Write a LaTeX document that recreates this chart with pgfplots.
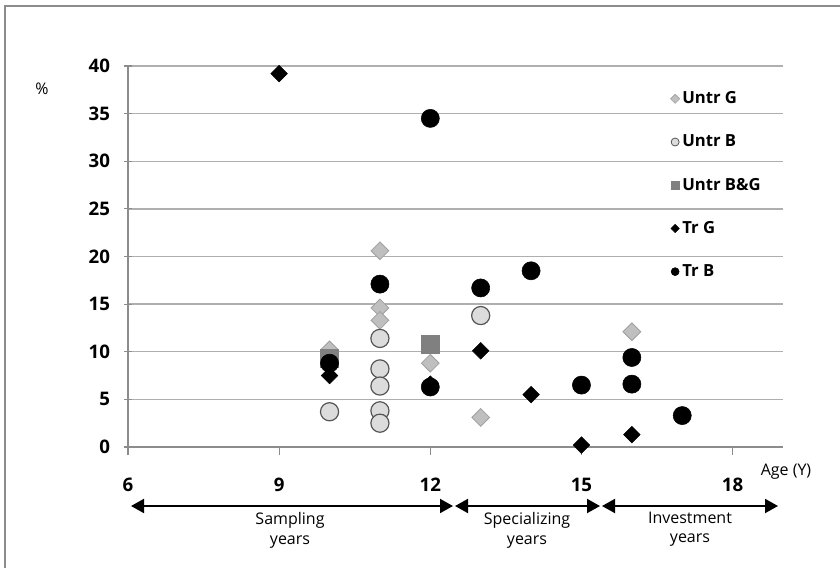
\documentclass[border=0pt]{standalone}
\usepackage{fontspec}
\setmainfont{Open Sans}
\usepackage{pgfplots}
\pgfplotsset{compat=1.18}
\usetikzlibrary{arrows.meta}
\definecolor{untrg}{HTML}{BFBFBF}
\definecolor{untrgedge}{HTML}{A0A0A0}
\definecolor{untrb}{HTML}{DCDCDC}
\definecolor{untrbedge}{HTML}{555555}
\definecolor{untrbg}{HTML}{808080}
\definecolor{axgray}{HTML}{8C8C8C}
\definecolor{gridgray}{HTML}{AFAFAF}
\begin{document}
\begin{tikzpicture}
\begin{scope}[x=0.75pt,y=-0.75pt]
\useasboundingbox (0,0) rectangle (840,568);
\draw[axgray, line width=1.5pt] (5,568) -- (5,6) -- (840,6);
\end{scope}
\begin{axis}[
  at={(96pt,-335.25pt)}, anchor=south west,
  scale only axis, width=491.25pt, height=285.75pt,
  xmin=6, xmax=19, ymin=0, ymax=40,
  axis lines=left, axis line style={-, draw=axgray, line width=0.9pt},
  xtick={6,9,12,15,18}, ytick={0,5,...,40},
  xtick align=outside, ytick align=center,
  major tick length=6pt,
  tick style={draw=axgray, line width=0.8pt},
  ymajorgrids, grid style={draw=gridgray, line width=1pt},
  /pgf/number format/assume math mode=true,
  ticklabel style={font=\fontsize{14}{16}\selectfont\bfseries},
  xticklabel style={yshift=-14pt},
  yticklabel style={xshift=-7pt},
  clip=false,
  legend style={draw=none, fill=none, at={(0.828,0.94)}, anchor=north west,
    font=\fontsize{12.5}{14}\selectfont\bfseries, row sep=17.9pt, inner sep=0pt},
  legend cell align=left,
  legend image code/.code={\draw[mark repeat=2,mark phase=2,#1] plot coordinates {(0cm,0cm) (0.2cm,0cm) (0.55cm,0cm)};},
]
% legend images
\addlegendimage{only marks, mark=square*, mark size=2.4pt, mark options={rotate=45, fill=untrg, draw=untrgedge, line width=0.5pt}}
\addlegendentry{Untr G}
\addlegendimage{only marks, mark=*, mark size=3pt, mark options={fill=untrb, draw=untrbedge, line width=0.6pt}}
\addlegendentry{Untr B}
\addlegendimage{only marks, mark=square*, mark size=3pt, mark options={fill=untrbg, draw=untrbg}}
\addlegendentry{Untr B\&G}
\addlegendimage{only marks, mark=square*, mark size=2.2pt, mark options={rotate=45, fill=black, draw=black}}
\addlegendentry{Tr G}
\addlegendimage{only marks, mark=*, mark size=3pt, mark options={fill=black, draw=black}}
\addlegendentry{Tr B}
% Untr G
\addplot[forget plot, only marks, mark=square*, mark size=4.7pt, mark options={rotate=45, fill=untrg, draw=untrgedge, line width=0.6pt}]
coordinates {(10,10.2) (11,20.6) (11,14.6) (11,13.3) (12,8.8) (13,3.1) (16,12.1)};
% Untr B
\addplot[forget plot, only marks, mark=*, mark size=6.8pt, mark options={fill=untrb, draw=untrbedge, line width=0.9pt}]
coordinates {(10,3.7) (11,11.4) (11,8.2) (11,6.4) (11,3.8) (11,2.5) (13,13.8)};
% Untr B&G
\addplot[forget plot, only marks, mark=square*, mark size=6.6pt, mark options={fill=untrbg, draw=untrbg}]
coordinates {(10,9.3) (12,10.8)};
% Tr G
\addplot[forget plot, only marks, mark=square*, mark size=4.4pt, mark options={rotate=45, fill=black, draw=black}]
coordinates {(9,39.2) (10,7.5) (12,6.6) (13,10.1) (14,5.5) (15,0.2) (16,1.3)};
% Tr B
\addplot[forget plot, only marks, mark=*, mark size=6.8pt, mark options={fill=black, draw=black}]
coordinates {(10,8.8) (11,17.1) (12,34.5) (12,6.3) (13,16.7) (14,18.5) (15,6.5) (16,9.4) (16,6.6) (17,3.3)};
\end{axis}
\begin{scope}[x=0.75pt,y=-0.75pt]
\node[font=\fontsize{12}{14}\selectfont] at (42,89) {\%};
\node[font=\fontsize{12}{14}\selectfont] at (786,472) {Age (Y)};
\draw[line width=1.5pt, {Triangle[length=9.75pt,width=10.5pt]}-{Triangle[length=9.75pt,width=10.5pt]}] (131,506) -- (453,506);
\draw[line width=1.5pt, {Triangle[length=9.75pt,width=10.5pt]}-{Triangle[length=9.75pt,width=10.5pt]}] (455,506) -- (600,506);
\draw[line width=1.5pt, {Triangle[length=9.75pt,width=10.5pt]}-{Triangle[length=9.75pt,width=10.5pt]}] (602,506) -- (778,506);
\node[font=\fontsize{12}{14}\selectfont] at (290,520) {Sampling};
\node[font=\fontsize{12}{14}\selectfont] at (290,542) {years};
\node[font=\fontsize{12}{14}\selectfont] at (527,520) {Specializing};
\node[font=\fontsize{12}{14}\selectfont] at (527,542) {years};
\node[font=\fontsize{12}{14}\selectfont] at (690,518) {Investment};
\node[font=\fontsize{12}{14}\selectfont] at (690,540) {years};
\end{scope}
\end{tikzpicture}
\end{document}
